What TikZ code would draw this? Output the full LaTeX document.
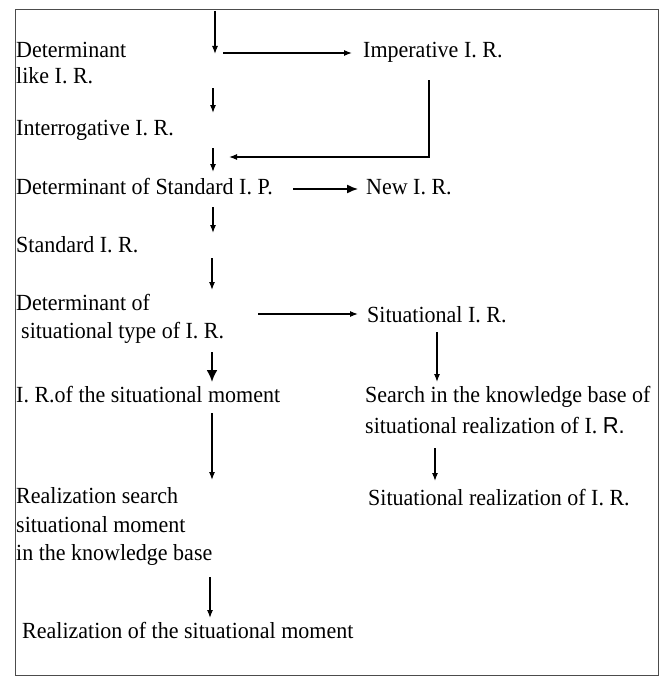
\documentclass[tikz,border=0pt]{standalone}
\usepackage{fontspec}
\setmainfont{Liberation Serif}
\newfontfamily\sansR{Liberation Sans}
\usetikzlibrary{arrows.meta}

\begin{document}
\begin{tikzpicture}[x=1pt, y=-1pt,
    lbl/.style={anchor=base west, inner sep=0pt, font=\fontsize{22}{26}\selectfont, yscale=1.05, transform shape},
    arr/.style={line width=1.2pt, -{Latex[length=8pt, width=6pt]}},
    bigarr/.style={line width=1.4pt, -{Latex[length=11pt, width=9pt]}},
    fatarr/.style={line width=2.2pt, -{Latex[length=12pt, width=11pt]}}]
    \useasboundingbox (0,0) rectangle (664,677);
    \draw [black!70, line width=1pt] (15,10) rectangle (658,675);

    % First, put down the texts and name them
        \node [lbl] (det) at (16, 57) {Determinant};
        \node [lbl] (like) at (16, 83) {like I. R.};
        \node [lbl] (imp) at (363, 57) {Imperative I. R.};
        \node [lbl] (interr) at (16, 135) {Interrogative I. R.};
        \node [lbl] (detstd) at (16, 194) {Determinant of Standard I. P.};
        \node [lbl] (new) at (366, 194) {New I. R.};
        \node [lbl] (std) at (16, 252) {Standard I. R.};
        \node [lbl] (detsit) at (16, 310) {Determinant of};
        \node [lbl] (dettype) at (21, 338) {situational type of I. R.};
        \node [lbl] (sit) at (367, 322) {Situational I. R.};
        \node [lbl] (moment) at (16, 402) {I. R.of the situational moment};
        \node [lbl] (search) at (365, 402) {Search in the knowledge base of};
        \node [lbl] (searchb) at (365, 433) {situational realization of I. {\sansR R.}};
        \node [lbl] (sitreal) at (368, 505) {Situational realization of I. R.};
        \node [lbl] (rsearch) at (16, 503) {Realization search};
        \node [lbl] (rsearchb) at (16, 532) {situational moment};
        \node [lbl] (rsearchc) at (16, 560) {in the knowledge base};
        \node [lbl] (real) at (22, 638) {Realization of the situational moment};

    % Then the ends of the arrows
        \coordinate (in) at (215, 11);
        \coordinate (inend) at (215, 54);
        \coordinate (toimp) at (223, 53);
        \coordinate (impend) at (352, 53);
        \coordinate (interrtop) at (213, 88);
        \coordinate (interrend) at (213, 113);
        \coordinate (back) at (429, 80);
        \coordinate (backcorner) at (429, 157);
        \coordinate (backend) at (229, 157);
        \coordinate (dstdtop) at (213, 148);
        \coordinate (dstdend) at (213, 172);
        \coordinate (tonew) at (293, 189);
        \coordinate (newend) at (358, 189);
        \coordinate (stdtop) at (213, 207);
        \coordinate (stdend) at (213, 233);
        \coordinate (dsittop) at (212, 258);
        \coordinate (dsitend) at (212, 290);
        \coordinate (tosit) at (258, 314);
        \coordinate (sitend) at (358, 314);
        \coordinate (momtop) at (212, 352);
        \coordinate (momend) at (212, 382);
        \coordinate (srchtop) at (437, 332);
        \coordinate (srchend) at (437, 382);
        \coordinate (rstop) at (212, 413);
        \coordinate (rsend) at (212, 480);
        \coordinate (srtop) at (435, 448);
        \coordinate (srend) at (435, 481);
        \coordinate (realtop) at (210, 577);
        \coordinate (realend) at (210, 618);

    % Now draw the arrows:
        \draw [arr] (in) -- (inend);
        \draw [arr] (toimp) -- (impend);
        \draw [arr] (interrtop) -- (interrend);
        \draw [arr] (back) -- (backcorner) -- (backend);
        \draw [arr] (dstdtop) -- (dstdend);
        \draw [bigarr] (tonew) -- (newend);
        \draw [arr] (stdtop) -- (stdend);
        \draw [arr] (dsittop) -- (dsitend);
        \draw [arr] (tosit) -- (sitend);
        \draw [fatarr] (momtop) -- (momend);
        \draw [arr] (srchtop) -- (srchend);
        \draw [arr] (rstop) -- (rsend);
        \draw [arr] (srtop) -- (srend);
        \draw [arr] (realtop) -- (realend);
\end{tikzpicture}
\end{document}
